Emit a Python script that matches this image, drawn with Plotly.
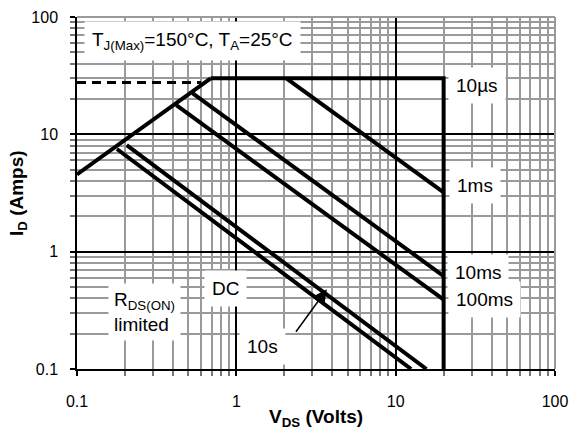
import numpy as np
import plotly.graph_objects as go

# ---------------- data ----------------
# R_DS(ON) limit line
rds_v = [0.1, 0.69]
rds_i = [4.55, 30.0]
# dashed pulsed-current limit
idm_v = [0.1, 0.6]
idm_i = [27.7, 27.7]
# 10 us boundary (plateau + vertical at BVdss)
us10_v = [0.69, 20.0, 20.0]
us10_i = [30.0, 30.0, 0.1]
# pulse lines
ms1_v = [2.06, 20.0]
ms1_i = [30.0, 3.2]
ms10_v = [0.53, 20.0]
ms10_i = [22.4, 0.62]
ms100_v = [0.42, 20.0]
ms100_i = [17.7, 0.39]
s10_v = [0.205, 15.6]
s10_i = [8.1, 0.1]
dc_v = [0.178, 12.5]
dc_i = [7.5, 0.1]

x_tickvals = [0.1, 1, 10, 100]
x_ticktext = ["0.1", "1", "10", "100"]
y_tickvals = [0.1, 1, 10, 100]
y_ticktext = ["0.1", "1", "10", "100"]

FONT = "Liberation Sans, Arial, sans-serif"

fig = go.Figure()

line_style = dict(color="black", width=4)
for name, xs, ys in [
    ("RDS(ON)", rds_v, rds_i),
    ("10µs", us10_v, us10_i),
    ("1ms", ms1_v, ms1_i),
    ("10ms", ms10_v, ms10_i),
    ("100ms", ms100_v, ms100_i),
    ("10s", s10_v, s10_i),
    ("DC", dc_v, dc_i),
]:
    fig.add_trace(go.Scatter(x=xs, y=ys, mode="lines", name=name,
                             line=line_style, showlegend=False,
                             hoverinfo="skip"))

fig.add_trace(go.Scatter(x=idm_v, y=idm_i, mode="lines", name="IDM",
                         line=dict(color="black", width=3, dash="9px,6px"),
                         showlegend=False, hoverinfo="skip"))

axis_common = dict(
    type="log", automargin=False,
    showline=True, linecolor="black", linewidth=1.5,
    ticks="outside", ticklen=5, tickcolor="black", tickwidth=1.5,
    showgrid=True, gridcolor="black", gridwidth=1.5,
    tickfont=dict(family=FONT, size=16, color="black"),
    minor=dict(dtick="D1", showgrid=True, gridcolor="#9a9a9a", gridwidth=2,
               ticks="outside", ticklen=5, tickcolor="#777777", tickwidth=1.5),
    zeroline=False,
)

fig.update_xaxes(range=[-1, 2], tickmode="array", tickvals=x_tickvals,
                 ticktext=x_ticktext, ticklabelstandoff=12, **axis_common)
fig.update_yaxes(range=[-1, 2], tickmode="array", tickvals=y_tickvals,
                 ticktext=y_ticktext, ticklabelstandoff=9, **axis_common)

lbl_font = dict(family=FONT, size=19, color="black")


def lab(text, vx, iy, **kw):
    d = dict(x=np.log10(vx), y=np.log10(iy), xref="x", yref="y", text=text,
             showarrow=False, font=lbl_font, bgcolor="white", borderpad=7)
    d.update(kw)
    fig.add_annotation(**d)


lab("10µs", 32.6, 26.2)
lab("1ms", 31.3, 3.7)
lab("10ms", 33.1, 0.67)
lab("100ms", 36.1, 0.388)
lab("DC", 0.857, 0.482)
lab("R<sub>DS(ON)</sub><br>limited", 0.266, 0.307, align="left", borderpad=5)
lab("10s", 1.46, 0.157)
lab("T<sub>J(Max)</sub>=150°C, T<sub>A</sub>=25°C", 0.532, 62.1, borderpad=7)

# arrow pointing to the 10 s line
fig.add_annotation(x=np.log10(3.7), y=-0.32, xref="x", yref="y", text="",
                   showarrow=True, arrowhead=2, arrowsize=1.6, arrowwidth=1.5,
                   arrowcolor="black", ax=-32, ay=44, standoff=0)

# axis titles
fig.add_annotation(x=0.5, y=0, xref="paper", yref="paper",
                   text="<b>V<sub>DS</sub> (Volts)</b>", showarrow=False,
                   xanchor="center", yanchor="middle", yshift=-49,
                   font=dict(family=FONT, size=19, color="black"))
fig.add_annotation(x=0, y=0.5, xref="paper", yref="paper",
                   text="<b>I<sub>D</sub> (Amps)</b>", showarrow=False,
                   xanchor="center", yanchor="middle", xshift=-59,
                   textangle=-90,
                   font=dict(family=FONT, size=19, color="black"))

# gray frame on top and right
fig.add_shape(type="line", xref="paper", yref="paper", x0=0, x1=1, y0=1, y1=1,
              line=dict(color="#9a9a9a", width=2))
fig.add_shape(type="line", xref="paper", yref="paper", x0=1, x1=1, y0=0, y1=1,
              line=dict(color="#9a9a9a", width=2))

fig.update_layout(
    width=570, height=434,
    margin=dict(l=77, r=15, t=17, b=65, autoexpand=False),
    paper_bgcolor="white", plot_bgcolor="white",
    font=dict(family=FONT, color="black"),
    showlegend=False,
)

fig.write_html("out.html", config={"displayModeBar": False},
               post_script="document.body.style.margin='0';"
                           "document.body.style.overflow='hidden';")
